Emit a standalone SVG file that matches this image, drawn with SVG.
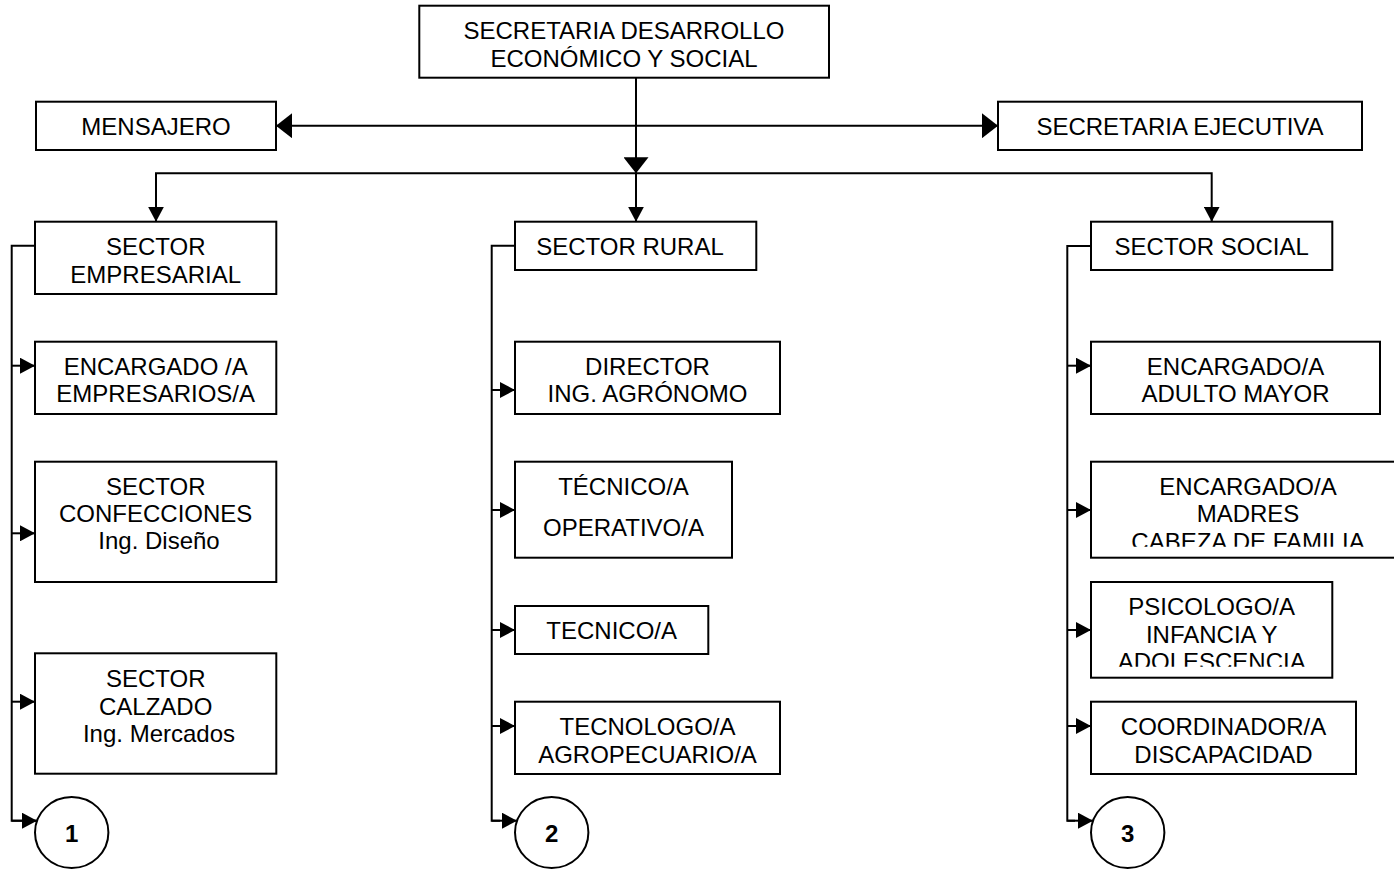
<svg xmlns="http://www.w3.org/2000/svg" width="1394" height="869" viewBox="0 0 1394 869">
<style>
.box{fill:#fff;stroke:#000;stroke-width:2}
.ln{fill:none;stroke:#000;stroke-width:2}
text{font-family:"Liberation Sans",Arial,sans-serif;font-size:24px;fill:#000;text-anchor:middle}
.num{font-weight:bold}
</style>
<defs>
<marker id="big" markerUnits="userSpaceOnUse" markerWidth="16" markerHeight="25" refX="16" refY="12.5" orient="auto-start-reverse"><path d="M0,0 L16,12.5 L0,25 Z" fill="#000"/></marker>
<marker id="sm" markerUnits="userSpaceOnUse" markerWidth="15" markerHeight="16" refX="15" refY="8" orient="auto"><path d="M0,0 L15,8 L0,16 Z" fill="#000"/></marker>
<clipPath id="clipMadres"><rect x="1091" y="461" width="310" height="85.7"/></clipPath>
<clipPath id="clipPsico"><rect x="1091" y="581" width="242" height="85.7"/></clipPath>
</defs>

<g id="connectors">
<path class="ln" d="M276,125.7 H998" marker-start="url(#big)" marker-end="url(#big)"/>
<path class="ln" d="M636,77.7 V173.3" marker-end="url(#big)"/>
<path class="ln" d="M636,173.3 V221.7" marker-end="url(#sm)"/>
<path class="ln" d="M636,173.3 H156 V221.7" marker-end="url(#sm)"/>
<path class="ln" d="M636,173.3 H1211.7 V221.7" marker-end="url(#sm)"/>
<!-- left column -->
<path class="ln" d="M35,245.7 H11.7 V820.7 H36"/>
<path class="ln" d="M11.7,365.7 H35" marker-end="url(#sm)"/>
<path class="ln" d="M11.7,533.3 H35" marker-end="url(#sm)"/>
<path class="ln" d="M11.7,701.7 H35" marker-end="url(#sm)"/>
<path class="ln" d="M11.7,820.7 H37" marker-end="url(#sm)"/>
<!-- rural column -->
<path class="ln" d="M515,245.7 H491.7 V820.7 H500"/>
<path class="ln" d="M491.7,390 H515" marker-end="url(#sm)"/>
<path class="ln" d="M491.7,510 H515" marker-end="url(#sm)"/>
<path class="ln" d="M491.7,630 H515" marker-end="url(#sm)"/>
<path class="ln" d="M491.7,726 H515" marker-end="url(#sm)"/>
<path class="ln" d="M491.7,820.7 H517" marker-end="url(#sm)"/>
<!-- social column -->
<path class="ln" d="M1091,246 H1067.3 V820.7 H1075"/>
<path class="ln" d="M1067.3,365.7 H1091" marker-end="url(#sm)"/>
<path class="ln" d="M1067.3,510 H1091" marker-end="url(#sm)"/>
<path class="ln" d="M1067.3,630 H1091" marker-end="url(#sm)"/>
<path class="ln" d="M1067.3,726 H1091" marker-end="url(#sm)"/>
<path class="ln" d="M1067.3,820.7 H1093" marker-end="url(#sm)"/>
</g>

<g id="secretaria">
<rect class="box" x="419.3" y="5.7" width="409.7" height="72"/>
<text x="624" y="39.3">SECRETARIA DESARROLLO</text>
<text x="624" y="66.7">ECONÓMICO Y SOCIAL</text>
</g>
<g id="mensajero">
<rect class="box" x="36" y="101.7" width="240" height="48.3"/>
<text x="156" y="135">MENSAJERO</text>
</g>
<g id="secretaria-ejecutiva">
<rect class="box" x="998" y="101.7" width="364" height="48.3"/>
<text x="1180" y="135">SECRETARIA EJECUTIVA</text>
</g>

<g id="sector-empresarial">
<rect class="box" x="35" y="221.7" width="241.3" height="72.3"/>
<text x="155.7" y="255">SECTOR</text>
<text x="155.7" y="282.7">EMPRESARIAL</text>
</g>
<g id="encargado-empresarios">
<rect class="box" x="35" y="341.7" width="241.3" height="72.3"/>
<text x="155.7" y="375">ENCARGADO /A</text>
<text x="155.7" y="402.3">EMPRESARIOS/A</text>
</g>
<g id="sector-confecciones">
<rect class="box" x="35" y="461.7" width="241.3" height="120.3"/>
<text x="155.7" y="495">SECTOR</text>
<text x="155.7" y="522.3">CONFECCIONES</text>
<text x="159" y="549.3">Ing. Diseño</text>
</g>
<g id="sector-calzado">
<rect class="box" x="35" y="653.3" width="241.3" height="120.4"/>
<text x="155.7" y="687.3">SECTOR</text>
<text x="155.7" y="715">CALZADO</text>
<text x="159" y="741.7">Ing. Mercados</text>
</g>
<g id="conector-1">
<ellipse class="box" cx="71.7" cy="832.5" rx="36.7" ry="35.5"/>
<text class="num" x="71.7" y="841.7">1</text>
</g>

<g id="sector-rural">
<rect class="box" x="515" y="221.7" width="241.3" height="48.3"/>
<text x="630" y="255">SECTOR RURAL</text>
</g>
<g id="director">
<rect class="box" x="515" y="341.7" width="265" height="72.3"/>
<text x="647.5" y="375">DIRECTOR</text>
<text x="647.5" y="402.3">ING. AGRÓNOMO</text>
</g>
<g id="tecnico-operativo">
<rect class="box" x="515" y="461.7" width="217" height="96"/>
<text x="623.5" y="495">TÉCNICO/A</text>
<text x="623.5" y="535.7">OPERATIVO/A</text>
</g>
<g id="tecnico">
<rect class="box" x="515" y="606" width="193.3" height="48"/>
<text x="611.7" y="639">TECNICO/A</text>
</g>
<g id="tecnologo">
<rect class="box" x="515" y="701.7" width="265" height="72.3"/>
<text x="647.5" y="735">TECNOLOGO/A</text>
<text x="647.5" y="762.7">AGROPECUARIO/A</text>
</g>
<g id="conector-2">
<ellipse class="box" cx="551.7" cy="832.5" rx="36.7" ry="35.5"/>
<text class="num" x="551.7" y="841.7">2</text>
</g>

<g id="sector-social">
<rect class="box" x="1091" y="221.7" width="241.3" height="48.3"/>
<text x="1211.7" y="255">SECTOR SOCIAL</text>
</g>
<g id="adulto-mayor">
<rect class="box" x="1091" y="341.7" width="289" height="72.3"/>
<text x="1235.5" y="375">ENCARGADO/A</text>
<text x="1235.5" y="402.3">ADULTO MAYOR</text>
</g>
<g id="madres">
<rect class="box" x="1091" y="461.7" width="314" height="96"/>
<g clip-path="url(#clipMadres)">
<text x="1248" y="495">ENCARGADO/A</text>
<text x="1248" y="522.3">MADRES</text>
<text x="1248" y="549.7">CABEZA DE FAMILIA</text>
</g>
</g>
<g id="psicologo">
<rect class="box" x="1091" y="582" width="241.3" height="95.7"/>
<g clip-path="url(#clipPsico)">
<text x="1211.7" y="615">PSICOLOGO/A</text>
<text x="1211.7" y="642.7">INFANCIA Y</text>
<text x="1211.7" y="670.2">ADOLESCENCIA</text>
</g>
</g>
<g id="coordinador">
<rect class="box" x="1091" y="701.7" width="265" height="72.3"/>
<text x="1223.5" y="735">COORDINADOR/A</text>
<text x="1223.5" y="762.7">DISCAPACIDAD</text>
</g>
<g id="conector-3">
<ellipse class="box" cx="1127.7" cy="832.5" rx="36.7" ry="35.5"/>
<text class="num" x="1127.7" y="841.7">3</text>
</g>
</svg>
